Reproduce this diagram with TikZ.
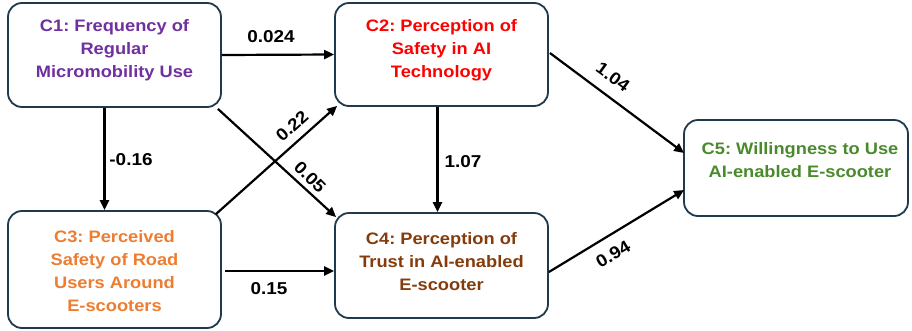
\documentclass[tikz,border=0pt]{standalone}
\usepackage{fontspec}
\setmainfont{Liberation Sans}[FakeStretch=1.1]
\usetikzlibrary{calc,arrows.meta}
\definecolor{bord}{HTML}{1F3A4D}
\definecolor{cpurple}{HTML}{7030A0}
\definecolor{cred}{HTML}{FF0000}
\definecolor{corange}{HTML}{ED7D31}
\definecolor{cbrown}{HTML}{843C0C}
\definecolor{cgreen}{HTML}{4A8A2C}
\frenchspacing
\begin{document}
\begin{tikzpicture}[x=1pt,y=-1pt,
  box/.style={draw=bord, line width=1.8pt, rounded corners=14pt, fill=white, inner sep=0pt},
  boxtext/.style={font=\bfseries\fontsize{16.6}{23}\selectfont, align=center, inner sep=0pt},
  arr/.style={line width=2.2pt, -{Triangle[length=10pt,width=9pt]}},
  lab/.style={font=\bfseries\fontsize{17.2}{18}\selectfont, inner sep=0pt}]
\useasboundingbox (0,0) rectangle (912,330);
\fill[white] (0,0) rectangle (912,330);

\node[box, minimum width=213, minimum height=104] (c1) at (114.5,55) {};
\node[box, minimum width=213, minimum height=103] (c2) at (441.5,54.5) {};
\node[box, minimum width=213, minimum height=117] (c3) at (114.5,269.5) {};
\node[box, minimum width=213, minimum height=105] (c4) at (441.5,265.5) {};
\node[box, minimum width=224, minimum height=96] (c5) at (796,168) {};

\node[boxtext, text=cpurple] (c1t) at (114.5,50) {C1: Frequency of\\Regular\\Micromobility Use};
\node[boxtext, text=cred] (c2t) at (441.5,50) {C2: Perception of\\Safety in AI\\Technology};
\node[boxtext, text=corange] (c3t) at (114.5,271.5) {C3: Perceived\\Safety of Road\\Users Around\\E-scooters};
\node[boxtext, text=cbrown] (c4t) at (441.5,262) {C4: Perception of\\Trust in AI-enabled\\E-scooter};
\node[boxtext, text=cgreen] (c5t) at (800,160) {C5: Willingness to Use\\AI-enabled E-scooter};

\draw[arr] (c1.east) -- (c2.west);
\draw[arr] ($(c1.south)+(-10,0)$) -- ($(c3.north)+(-10,0)$);
\draw[arr] ($(c2.south)+(-4,0)$) -- ($(c4.north)+(-4,0)$);
\draw[arr] ($(c3.east)+(3,1.5)$) -- ($(c4.west)+(0,5.5)$);
\draw[arr] ($(c1.south east)+(-4,1)$) -- ($(c4.north west)+(2,5)$);
\draw[arr] ($(c3.north east)+(-6,4)$) -- ($(c2.south west)+(3,-1)$);
\draw[arr] ($(c2.east)+(1,-1.5)$) -- ($(c5.west)+(1,-15)$);
\draw[arr] ($(c4.east)+(0,6.5)$) -- ($(c5.west)+(1,22)$);

\node[lab] (l1) at (271,36.5) {0.024};
\node[lab] (l2) at (131,160) {-0.16};
\node[lab, rotate=42] (l3) at (292,126) {0.22};
\node[lab, rotate=-45] (l4) at (310,177) {0.05};
\node[lab] (l5) at (463,162) {1.07};
\node[lab] (l6) at (269,289) {0.15};
\node[lab, rotate=-36] (l7) at (613,77) {1.04};
\node[lab, rotate=31] (l8) at (613,254) {0.94};
\end{tikzpicture}
\end{document}
